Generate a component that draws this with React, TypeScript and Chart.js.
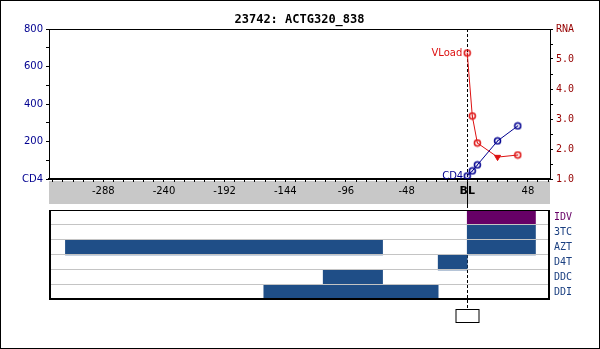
import React, { useEffect, useRef } from 'react';
import { Chart, registerables } from 'chart.js';

Chart.register(...registerables);

// ---- data ----
const titleText = '23742: ACTG320_838';
const weeks = [0, 4, 8, 24, 40];
const cd4Values = [16, 43, 75, 203, 283];
const vloadValues = [5.2, 3.1, 2.2, 1.73, 1.8];
const belowLimit = [false, false, false, true, false];

const xMin = -331;
const xMax = 65.5;
const xMinorStep = 8;
const xLabelStep = 48;

const cd4Min = 0;
const cd4Max = 800;
const cd4Step = 100;
const cd4LabelStep = 200;

const rnaMin = 1;
const rnaMax = 6;
const rnaStep = 0.5;

const drugs = ['IDV', '3TC', 'AZT', 'D4T', 'DDC', 'DDI'];
const segDrug = ['IDV', '3TC', 'AZT', 'AZT', 'D4T', 'DDC', 'DDI'];
const segStart = [0, 0, 0, -318, -23, -114, -161];
const segEnd = [54, 54, 54, -67, 0, -67, -23];

// ---- styles ----
const NAVY = '#000090';
const RED = '#dd1111';
const MAROON = '#960000';
const BAR_BLUE = '#1f4e87';
const PURPLE = '#660066';
const LABEL_BLUE = '#1a3f80';
const SANS = '"DejaVu Sans", Verdana, sans-serif';
const MONO = '"DejaVu Sans Mono", monospace';

function makeMarker(color: string) {
  const c = document.createElement('canvas');
  c.width = 9;
  c.height = 9;
  const g = c.getContext('2d')!;
  g.strokeStyle = color;
  g.lineWidth = 1.5;
  g.beginPath();
  g.arc(4.5, 4.5, 3, 0, Math.PI * 2);
  g.stroke();
  g.fillStyle = color;
  g.fillRect(4, 4, 1, 1);
  return c;
}

export default function App() {
  const topRef = useRef<HTMLCanvasElement | null>(null);
  const botRef = useRef<HTMLCanvasElement | null>(null);

  useEffect(() => {
    const cd4Marker = makeMarker(NAVY);
    const vlMarker = makeMarker(RED);

    const topPlugin = {
      id: 'topDecor',
      beforeDraw(chart: any) {
        const { ctx, chartArea } = chart;
        ctx.save();
        ctx.fillStyle = '#c8c8c8';
        ctx.fillRect(chartArea.left, chartArea.bottom + 2, chartArea.right - chartArea.left, 23);
        ctx.restore();
      },
      beforeDatasetsDraw(chart: any) {
        const { ctx, chartArea } = chart;
        const x0 = Math.round(chart.scales.x.getPixelForValue(0)) + 0.5;
        ctx.save();
        ctx.strokeStyle = '#000';
        ctx.lineWidth = 1;
        ctx.setLineDash([3, 2]);
        ctx.beginPath();
        ctx.moveTo(x0, chartArea.top);
        ctx.lineTo(x0, chartArea.bottom);
        ctx.stroke();
        ctx.setLineDash([]);
        ctx.beginPath();
        ctx.moveTo(x0, chartArea.bottom);
        ctx.lineTo(x0, chart.height);
        ctx.stroke();
        ctx.restore();
      },
      afterDraw(chart: any) {
        const { ctx, chartArea } = chart;
        ctx.save();
        ctx.strokeStyle = '#000';
        ctx.lineWidth = 1;
        ctx.beginPath();
        ctx.moveTo(chartArea.left, chartArea.top + 0.5);
        ctx.lineTo(chartArea.right, chartArea.top + 0.5);
        ctx.stroke();
        ctx.fillStyle = '#000';
        ctx.font = 'bold 12px ' + MONO;
        ctx.textAlign = 'center';
        ctx.textBaseline = 'middle';
        ctx.fillText(titleText, 299.5, 20);
        const p0 = chart.getDatasetMeta(0).data[0];
        const p1 = chart.getDatasetMeta(1).data[0];
        ctx.textAlign = 'right';
        ctx.font = '10px ' + SANS;
        ctx.fillStyle = NAVY;
        ctx.fillText('CD4', p0.x - 4, p0.y);
        ctx.fillStyle = RED;
        ctx.fillText('VLoad', p1.x - 5, p1.y);
        ctx.restore();
      },
    };

    const top = new Chart(topRef.current!, {
      type: 'line',
      data: {
        datasets: [
          {
            label: 'CD4',
            data: weeks.map((w, i) => ({ x: w, y: cd4Values[i] })),
            yAxisID: 'yL',
            borderColor: NAVY,
            borderWidth: 1,
            pointStyle: cd4Marker as any,
            pointRadius: 3.5,
            fill: false,
            tension: 0,
          },
          {
            label: 'VLoad',
            data: weeks.map((w, i) => ({ x: w, y: vloadValues[i] })),
            yAxisID: 'yR',
            borderColor: RED,
            borderWidth: 1,
            pointStyle: belowLimit.map((b) => (b ? 'triangle' : vlMarker)) as any,
            pointRotation: belowLimit.map((b) => (b ? 180 : 0)),
            pointRadius: 3.5,
            pointBackgroundColor: RED,
            pointBorderColor: RED,
            fill: false,
            tension: 0,
          },
        ],
      },
      options: {
        animation: false,
        responsive: false,
        layout: { padding: { top: 29, left: 0, right: 0, bottom: 0 } },
        plugins: {
          legend: { display: false },
          tooltip: { enabled: false },
          title: { display: false },
        },
        scales: {
          x: {
            type: 'linear',
            min: xMin,
            max: xMax,
            afterBuildTicks: (s: any) => {
              const t: any[] = [];
              for (let v = Math.ceil(xMin / xMinorStep) * xMinorStep; v <= xMax; v += xMinorStep) t.push({ value: v });
              s.ticks = t;
            },
            afterFit: (s: any) => {
              s.height = 26;
              s.paddingLeft = 0;
              s.paddingRight = 0;
            },
            grid: { drawOnChartArea: false, drawTicks: true, tickLength: 3, color: '#000' },
            border: { display: true, color: '#000', width: 2 },
            ticks: {
              autoSkip: false,
              maxRotation: 0,
              padding: 3,
              color: '#000',
              font: (ctx: any) =>
                ctx.tick && ctx.tick.value === 0
                  ? { family: SANS, size: 11, weight: 'bold' }
                  : { family: SANS, size: 10 },
              callback: (v: any) => {
                const n = Number(v);
                if (n === 0) return 'BL';
                if (n % xLabelStep === 0) return String(n);
                return '';
              },
            },
          },
          yL: {
            type: 'linear',
            position: 'left',
            min: cd4Min,
            max: cd4Max,
            afterFit: (s: any) => {
              s.width = 49;
            },
            grid: { drawOnChartArea: false, tickLength: 3, color: '#000' },
            border: { display: true, color: '#000', width: 1 },
            ticks: {
              stepSize: cd4Step,
              autoSkip: false,
              padding: 3,
              color: NAVY,
              font: { family: SANS, size: 10 },
              callback: (v: any) => {
                const n = Number(v);
                if (n === 0) return 'CD4';
                if (n % cd4LabelStep === 0) return String(n);
                return '';
              },
            },
          },
          yR: {
            type: 'linear',
            position: 'right',
            min: rnaMin,
            max: rnaMax,
            afterFit: (s: any) => {
              s.width = 50;
            },
            grid: { drawOnChartArea: false, tickLength: 3, color: '#000' },
            border: { display: true, color: '#000', width: 1 },
            ticks: {
              stepSize: rnaStep,
              autoSkip: false,
              padding: 3,
              color: MAROON,
              font: { family: MONO, size: 10 },
              callback: (v: any) => {
                const n = Number(v);
                if (Math.abs(n - rnaMax) < 1e-6) return 'RNA';
                if (Math.abs(n - Math.round(n)) < 1e-6) return n.toFixed(1);
                return '';
              },
            },
          },
        },
      } as any,
      plugins: [topPlugin],
    });

    const botPlugin = {
      id: 'botDecor',
      beforeDatasetsDraw(chart: any) {
        const { ctx } = chart;
        const x0 = Math.round(chart.scales.x.getPixelForValue(0)) + 0.5;
        ctx.save();
        ctx.strokeStyle = '#000';
        ctx.lineWidth = 1;
        ctx.setLineDash([3, 2]);
        ctx.beginPath();
        ctx.moveTo(x0, 0);
        ctx.lineTo(x0, 104);
        ctx.stroke();
        ctx.restore();
      },
      afterDatasetsDraw(chart: any) {
        const { ctx, chartArea } = chart;
        const ys = chart.scales.y;
        ctx.save();
        ctx.strokeStyle = '#c4c4c4';
        ctx.lineWidth = 1;
        ctx.beginPath();
        for (let i = 0; i < drugs.length - 1; i++) {
          const yb = Math.round((ys.getPixelForValue(i) + ys.getPixelForValue(i + 1)) / 2) - 0.5;
          ctx.moveTo(chartArea.left, yb);
          ctx.lineTo(chartArea.right, yb);
        }
        ctx.stroke();
        ctx.restore();
      },
      afterDraw(chart: any) {
        const { ctx, chartArea } = chart;
        const { left, right, top: t, bottom } = chartArea;
        ctx.save();
        ctx.strokeStyle = '#000';
        ctx.lineWidth = 1;
        ctx.beginPath();
        ctx.moveTo(left, t + 0.5);
        ctx.lineTo(right, t + 0.5);
        ctx.stroke();
        ctx.lineWidth = 2;
        ctx.beginPath();
        ctx.moveTo(left + 1, t);
        ctx.lineTo(left + 1, bottom);
        ctx.moveTo(left, bottom - 1);
        ctx.lineTo(right, bottom - 1);
        ctx.moveTo(right - 1, t);
        ctx.lineTo(right - 1, bottom);
        ctx.stroke();
        const x0 = Math.round(chart.scales.x.getPixelForValue(0)) + 0.5;
        ctx.lineWidth = 1;
        ctx.fillStyle = '#fff';
        ctx.fillRect(x0 - 11.5, 104.5, 23, 13);
        ctx.strokeRect(x0 - 11.5, 104.5, 23, 13);
        ctx.restore();
      },
    };

    const bot = new Chart(botRef.current!, {
      type: 'bar',
      data: {
        labels: drugs,
        datasets: [
          {
            data: segDrug.map((d, i) => ({ y: d, x: [segStart[i], segEnd[i]] })),
            backgroundColor: segDrug.map((d) => (d === 'IDV' ? PURPLE : BAR_BLUE)),
            borderWidth: 0,
            barPercentage: 1,
            categoryPercentage: 1,
            grouped: false,
          } as any,
        ],
      },
      options: {
        indexAxis: 'y',
        animation: false,
        responsive: false,
        layout: { padding: { left: 49, top: 5, bottom: 49, right: 0 } },
        plugins: {
          legend: { display: false },
          tooltip: { enabled: false },
        },
        scales: {
          x: { type: 'linear', min: xMin, max: xMax, display: false },
          y: {
            type: 'category',
            position: 'right',
            afterFit: (s: any) => {
              s.width = 50;
              s.paddingTop = 0;
              s.paddingBottom = 0;
            },
            grid: { display: true, drawOnChartArea: false, drawTicks: false },
            border: { display: false },
            ticks: {
              padding: 4,
              autoSkip: false,
              font: { family: MONO, size: 10 },
              color: (ctx: any) => (ctx.index === 0 ? PURPLE : LABEL_BLUE),
            },
          },
        },
      } as any,
      plugins: [botPlugin],
    });

    return () => {
      top.destroy();
      bot.destroy();
    };
  }, []);

  return (
    <div style={{ position: 'absolute', left: 0, top: 0, width: 600, height: 349, background: '#fff', overflow: 'hidden' }}>
      <canvas ref={topRef} width={600} height={205} style={{ position: 'absolute', left: 0, top: 0 }} />
      <canvas ref={botRef} width={600} height={144} style={{ position: 'absolute', left: 0, top: 205 }} />
      <div
        style={{
          position: 'absolute',
          left: 0,
          top: 0,
          width: 600,
          height: 349,
          boxSizing: 'border-box',
          border: '1px solid #000',
          pointerEvents: 'none',
        }}
      />
    </div>
  );
}
